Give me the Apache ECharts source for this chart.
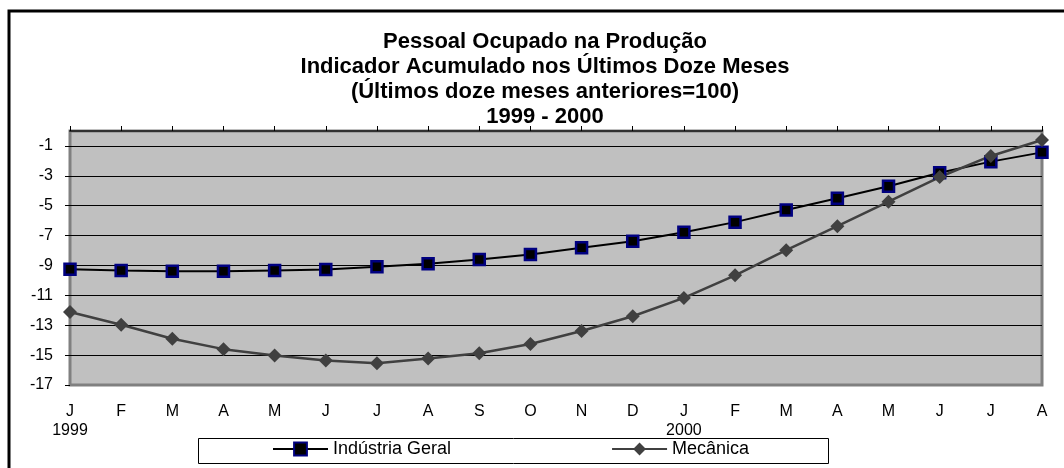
<!DOCTYPE html>
<html>
<head>
<meta charset="utf-8">
<script src="https://cdn.jsdelivr.net/npm/echarts@6/dist/echarts.min.js"></script>
<style>
  html, body { margin: 0; padding: 0; background: #fff; }
  #chart { width: 1064px; height: 468px; }
</style>
</head>
<body>
<div id="chart"></div>
<script>
// meses (eixo x) e anos
const months = ['J', 'F', 'M', 'A', 'M', 'J', 'J', 'A', 'S', 'O', 'N', 'D',
                'J', 'F', 'M', 'A', 'M', 'J', 'J', 'A'];
const yearLabels = ['1999', '', '', '', '', '', '', '', '', '', '', '',
                    '2000', '', '', '', '', '', '', ''];
const seriesNames = ['Indústria Geral', 'Mecânica'];
const industria = [-9.25, -9.33, -9.38, -9.38, -9.33, -9.27, -9.09, -8.89, -8.6, -8.27,
                   -7.82, -7.38, -6.77, -6.1, -5.29, -4.5, -3.7, -2.79, -2.05, -1.43];
const mecanica = [-12.11, -12.97, -13.9, -14.6, -15.03, -15.36, -15.54, -15.23, -14.87, -14.26,
                  -13.39, -12.4, -11.17, -9.66, -7.98, -6.37, -4.73, -3.08, -1.67, -0.6];
const titleLines = ['Pessoal Ocupado na Produção',
                    'Indicador Acumulado nos Últimos Doze Meses',
                    '(Últimos doze meses anteriores=100)',
                    '1999 - 2000'];

const font = 'Liberation Sans, Arial, sans-serif';
const chart = echarts.init(document.getElementById('chart'));

const option = {
  backgroundColor: '#ffffff',
  animation: false,
  title: {
    text: titleLines.join('\n'),
    left: 540,
    top: 24,
    textAlign: 'center',
    textStyle: {
      fontFamily: font,
      fontSize: 22,
      fontWeight: 'bold',
      color: '#000',
      lineHeight: 25
    }
  },
  legend: {
    data: seriesNames,
    left: 272,
    top: 440,
    padding: 0,
    itemGap: 160,
    itemWidth: 55,
    itemHeight: 16,
    textStyle: { fontFamily: font, fontSize: 18, color: '#000' }
  },
  grid: {
    left: 70,
    right: 22,
    top: 131,
    bottom: 83,
    show: true,
    backgroundColor: '#c0c0c0',
    borderColor: '#808080',
    borderWidth: 3
  },
  xAxis: [
    {
      type: 'category',
      data: months,
      boundaryGap: false,
      position: 'bottom',
      axisLine: { show: false },
      axisTick: { show: false },
      axisLabel: {
        margin: 17,
        fontFamily: font,
        fontSize: 16,
        color: '#000',
        lineHeight: 19,
        interval: 0,
        formatter: function (v, i) {
          return yearLabels[i] ? v + '\n' + yearLabels[i] : v;
        }
      }
    },
    {
      type: 'category',
      data: months,
      boundaryGap: false,
      position: 'top',
      axisLine: { show: true, lineStyle: { color: '#303030', width: 2 } },
      axisTick: { show: true, length: 5, interval: 0, lineStyle: { color: '#000' } },
      axisLabel: { show: false }
    }
  ],
  yAxis: {
    type: 'value',
    min: -17,
    max: 0,
    interval: 2,
    axisLine: { show: false },
    axisTick: { show: true, length: 5, lineStyle: { color: '#000' } },
    axisLabel: {
      margin: 17,
      showMaxLabel: false,
      fontFamily: font,
      fontSize: 16,
      color: '#000'
    },
    splitLine: {
      show: true,
      showMinLine: false,
      showMaxLine: false,
      lineStyle: { color: '#000', width: 1 }
    }
  },
  series: [
    {
      name: seriesNames[0],
      type: 'line',
      data: industria,
      symbol: 'rect',
      symbolSize: 11,
      lineStyle: { color: '#000', width: 2 },
      itemStyle: { color: '#000', borderColor: '#000080', borderWidth: 2.5 }
    },
    {
      name: seriesNames[1],
      type: 'line',
      data: mecanica,
      symbol: 'diamond',
      symbolSize: 14,
      lineStyle: { color: '#404040', width: 2.5 },
      itemStyle: { color: '#404040' }
    }
  ],
  graphic: [
    {
      type: 'rect',
      shape: { x: 9, y: 11, width: 1100, height: 500 },
      style: { fill: 'none', stroke: '#000', lineWidth: 3 },
      silent: true
    },
    {
      type: 'rect',
      shape: { x: 198.5, y: 438.5, width: 630, height: 25 },
      style: { fill: 'none', stroke: '#000', lineWidth: 1 },
      silent: true,
      z: -1
    }
  ]
};

chart.setOption(option);
</script>
</body>
</html>
